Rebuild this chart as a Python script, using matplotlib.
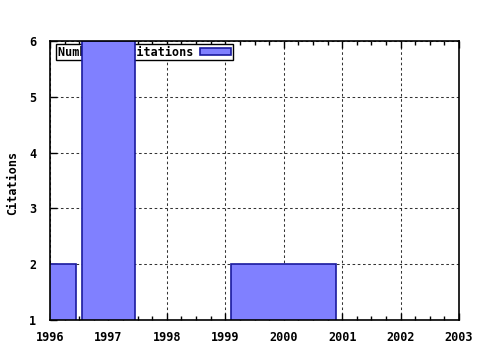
import numpy as np
import matplotlib
matplotlib.use('Agg')
import matplotlib.pyplot as plt
from matplotlib.ticker import MultipleLocator

# Data
years = [1996, 1997, 2000]
citations = [2, 6, 2]
widths = [0.9, 0.9, 1.8]
legend_label = 'Number of citations'

plt.rcParams['font.family'] = 'DejaVu Sans Mono'
plt.rcParams['font.weight'] = 'bold'
plt.rcParams['axes.labelweight'] = 'bold'
plt.rcParams['font.size'] = 8.5

fig = plt.figure(figsize=(4.8, 3.5), dpi=100)
ax = fig.add_axes([50/480, 1 - 320/350, 409/480, 279/350])

ax.bar(years, citations, width=widths, bottom=0, color='#8080ff',
       edgecolor='#1a1a9e', linewidth=1.2, label=legend_label, zorder=3)

ax.set_xlim(1996, 2003)
ax.set_ylim(1, 6)
ax.xaxis.set_major_locator(MultipleLocator(1))
ax.xaxis.set_minor_locator(MultipleLocator(0.25))
ax.yaxis.set_major_locator(MultipleLocator(1))
ax.tick_params(which='both', direction='in', top=True, right=False, width=1, color='black')
ax.tick_params(axis='x', which='major', length=5, pad=8)
ax.tick_params(axis='y', which='major', length=5, pad=10)
ax.tick_params(which='minor', length=3)
ax.grid(True, which='major', linestyle=(0, (2.5, 2.5)), color='#333333', linewidth=0.75, zorder=1)
ax.set_axisbelow(True)
for s in ax.spines.values():
    s.set_linewidth(1.2)
    s.set_zorder(4)

ax.set_ylabel('Citations', va='center')
ax.yaxis.set_label_coords((13 - 50) / 409, 0.49)

leg = ax.legend(loc='upper left', bbox_to_anchor=(0.015, 0.99), markerfirst=False,
                fancybox=False, framealpha=1, edgecolor='black', borderpad=0.15,
                handlelength=2.6, handleheight=0.5, handletextpad=0.6,
                borderaxespad=0)
leg.get_frame().set_linewidth(1.0)
leg.set_zorder(2)

fig.savefig('out.png', dpi=100)
plt.close()
